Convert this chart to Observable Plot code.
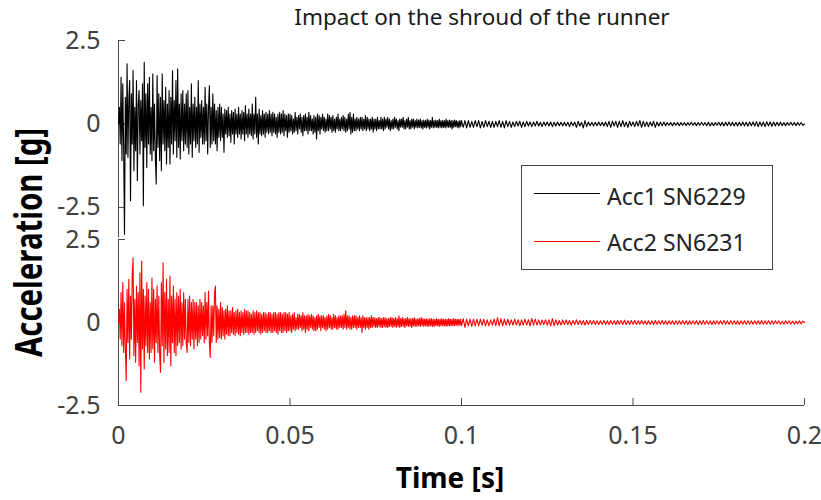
<!DOCTYPE html>
<html><head><meta charset="utf-8">
<script src="https://cdn.jsdelivr.net/npm/d3@7"></script>
<script src="https://cdn.jsdelivr.net/npm/@observablehq/plot@0.6"></script>
<style>
body{margin:0;background:#fff;}
#fig{position:relative;width:821px;height:500px;overflow:hidden;font-family:"Noto Sans",sans-serif;}
#fig svg{position:absolute;left:0;top:0;}
.txt{position:absolute;line-height:1;white-space:nowrap;}
</style></head><body><div id="fig"></div>
<script>
const title = "Impact on the shroud of the runner";
const xLabel = "Time [s]";
const yLabel = "Acceleration [g]";
const seriesNames = ["Acc1 SN6229", "Acc2 SN6231"];
const seriesColors = ["#000000", "#ff0000"];
const xTicks = [0, 0.05, 0.1, 0.15, 0.2];
const yTicks = [-2.5, 0, 2.5];
// 0 – 0.1 s sampled every 0.25 ms, 0.1 – 0.2 s every 0.5 ms
const fastStep = 0.00025;
const slowStart = 0.1;
const slowStep = 0.0005;

const acc1Fast = [
0, 0.5, -0.6, 1.4, -1.1, 1.2, -0.7, -3.3, 0.8, -0.9,
1.8, -1.0, 0.7, 1.3, -2.3, 0.9, -0.6, 1.6, -1.4, 0.5,
-0.8, 1.3, -1.7, 0.6, 1.0, -0.9, 0.7, -0.5, 1.2, -2.45,
1.85, -0.7, 0.9, -1.3, 1.2, -0.6, 1.4, -0.9, 0.5, -1.1,
1.5, -0.8, 0.6, -1.0, -1.8, 1.45, -0.7, 0.9, -1.1, 0.8,
-1.4, 1.5, -0.6, 0.7, -0.8, 1.1, -1.2, 0.6, -0.7, 1.0,
-1.2, 0.8, -0.6, 1.6, -0.9, 0.7, -0.5, 1.3, -1.0, 1.65,
-0.7, 0.6, -1.05, 0.9, -0.5, 1.0, -0.8, 0.6, -0.6, 0.9,
-0.7, 1.0, -0.9, 0.5, -0.6, 1.2, -1.0, 0.6, -0.5, 0.8,
-0.7, 0.5, -0.6, 1.3, -0.85, 0.6, -0.4, 0.7, -0.6, 0.5,
-0.6, 1.1, -0.5, 0.6, -0.9, 0.5, 1.15, -0.7, 0.5, -0.6,
0.9, -0.5, 0.6, -0.6, 0.4, -0.8, 0.5, -0.4, 0.6, -0.5,
0.5, -0.4, 0.3, -0.85, 0.45, -0.3, 0.4, -0.4, 0.5, -0.35,
0.3, -0.55, 0.4, -0.3, 0.35, -0.6, 0.45, -0.3, 0.3, -0.4,
0.5, -0.3, 0.3, -0.45, 0.4, -0.3, 0.35, -0.5, 0.55, -0.3,
0.3, -0.4, 0.45, -0.3, 0.3, -0.35, 0.6, -0.45, 0.3, -0.3,
0.8, -0.4, 0.3, -0.6, 0.45, -0.3, 0.25, -0.35, 0.4, -0.3,
0.3, -0.4, 0.35, -0.25, 0.3, -0.3, 0.4, -0.25, 0.3, -0.35,
0.35, -0.25, 0.3, -0.3, 0.2, -0.4, 0.3, -0.25, 0.35, -0.3,
0.3, -0.25, 0.4, -0.35, 0.3, -0.2, 0.25, -0.4, 0.3, -0.25,
0.3, -0.2, 0.25, -0.3, 0.15, -0.25, 0.35, -0.2, 0.2, -0.3,
0.25, -0.15, 0.3, -0.25, 0.2, -0.35, 0.25, -0.2, 0.3, -0.2,
0.2, -0.3, 0.35, -0.2, 0.25, -0.2, 0.15, -0.3, 0.25, -0.25,
0.2, -0.45, 0.3, -0.2, 0.25, -0.3, 0.2, -0.15, 0.3, -0.2,
0.2, -0.25, 0.15, -0.2, 0.3, -0.2, 0.25, -0.15, 0.2, -0.25,
0.25, -0.2, 0.15, -0.25, 0.2, -0.15, 0.3, -0.2, 0.15, -0.2,
0.2, -0.15, 0.25, -0.2, 0.2, -0.25, 0.15, -0.2, 0.3, -0.15,
0.35, -0.3, 0.2, -0.25, 0.3, -0.2, 0.15, -0.2, 0.2, -0.15,
0.15, -0.2, 0.2, -0.15, 0.2, -0.2, 0.15, -0.15, 0.25, -0.2,
0.2, -0.15, 0.15, -0.2, 0.15, -0.15, 0.2, -0.25, 0.15, -0.15,
0.15, -0.2, 0.2, -0.15, 0.1, -0.15, 0.2, -0.15, 0.15, -0.2,
0.2, -0.15, 0.15, -0.1, 0.2, -0.15, 0.15, -0.2, 0.1, -0.15,
0.15, -0.15, 0.2, -0.1, 0.15, -0.15, 0.1, -0.2, 0.15, -0.1,
0.15, -0.1, 0.2, -0.15, 0.1, -0.15, 0.15, -0.1, 0.2, -0.15,
0.1, -0.15, 0.15, -0.1, 0.15, -0.15, 0.1, -0.1, 0.15, -0.12,
0.12, -0.1, 0.15, -0.12, 0.1, -0.15, 0.12, -0.1, 0.1, -0.12,
0.15, -0.1, 0.12, -0.15, 0.1, -0.1, 0.2, -0.12, 0.1, -0.1,
0.12, -0.1, 0.1, -0.12, 0.15, -0.1, 0.1, -0.12, 0.1, -0.1,
0.1, -0.12, 0.15, -0.1, 0.1, -0.1, 0.12, -0.1, 0.1, -0.15,
0.1, -0.1, 0.12, -0.08, 0.1, -0.1, 0.08, -0.12, 0.1, -0.08
];

const acc1Slow = [
0.1, -0.1, 0.1, -0.12, 0.1, -0.1, 0.08, -0.1, 0.1, -0.08,
0.1, -0.12, 0.08, -0.1, 0.1, -0.08, 0.08, -0.1, 0.08, -0.1,
0.08, -0.08, 0.1, -0.1, 0.08, -0.12, 0.1, -0.08, 0.08, -0.1,
0.06, -0.08, 0.08, -0.06, 0.08, -0.1, 0.06, -0.08, 0.08, -0.06,
0.06, -0.08, 0.06, -0.06, 0.08, -0.06, 0.05, -0.08, 0.06, -0.05,
0.06, -0.06, 0.06, -0.08, 0.05, -0.06, 0.06, -0.05, 0.05, -0.06,
0.05, -0.06, 0.05, -0.08, 0.06, -0.05, 0.06, -0.1, 0.08, -0.06,
0.05, -0.12, 0.1, -0.08, 0.06, -0.05, 0.05, -0.06, 0.05, -0.05,
0.06, -0.05, 0.05, -0.06, 0.06, -0.08, 0.08, -0.1, 0.08, -0.06,
0.08, -0.1, 0.08, -0.08, 0.1, -0.08, 0.06, -0.1, 0.08, -0.06,
0.06, -0.08, 0.08, -0.06, 0.1, -0.1, 0.08, -0.08, 0.06, -0.08,
0.06, -0.06, 0.08, -0.1, 0.06, -0.06, 0.06, -0.05, 0.06, -0.05,
0.04, -0.04, 0.04, -0.05, 0.04, -0.04, 0.04, -0.05, 0.04, -0.04,
0.04, -0.05, 0.04, -0.04, 0.05, -0.04, 0.04, -0.05, 0.04, -0.04,
0.05, -0.04, 0.04, -0.05, 0.05, -0.06, 0.04, -0.05, 0.04, -0.04,
0.05, -0.05, 0.05, -0.06, 0.05, -0.05, 0.06, -0.05, 0.05, -0.06,
0.05, -0.06, 0.05, -0.05, 0.06, -0.06, 0.05, -0.07, 0.06, -0.05,
0.06, -0.06, 0.07, -0.08, 0.06, -0.07, 0.06, -0.08, 0.07, -0.06,
0.06, -0.07, 0.06, -0.06, 0.05, -0.05, 0.06, -0.05, 0.04, -0.05,
0.04, -0.04, 0.05, -0.04, 0.04, -0.05, 0.04, -0.04, 0.04, -0.04,
0
];

const acc2Fast = [
0, 0.4, -0.5, 0.9, -0.7, 1.2, -0.9, 0.6, -0.8, -1.75,
1.0, -0.6, 1.3, -1.1, 0.8, -0.5, 1.4, 1.95, -1.0, 0.7,
-1.2, 1.1, -0.6, 0.9, -1.3, 1.5, -2.1, 1.85, -0.8, 1.0,
-1.4, 0.8, -0.7, 1.2, -0.9, 1.0, -1.1, 0.6, -0.9, 1.35,
-0.8, 1.0, -1.2, 0.7, -0.6, 1.1, -0.9, 0.8, -1.0, -1.5,
1.2, -0.7, 1.8, -1.2, 0.9, -0.8, 1.3, -1.0, 0.7, -0.9,
1.4, -1.3, 0.8, -0.6, 1.1, -0.9, 0.7, -1.0, 0.9, -0.7,
0.8, -0.6, 1.0, -0.8, 0.6, -0.7, 0.9, -0.5, 0.7, -0.6,
-0.9, 0.7, -0.6, 0.8, -0.7, 0.6, -0.5, 0.7, -0.8, 0.6,
-0.5, 0.6, -0.7, 0.5, -0.6, 0.7, -0.5, 0.6, -0.4, 0.5,
-0.6, 0.9, -0.5, 0.6, -0.4, 0.95, -0.6, -1.05, 0.5, -0.6,
0.5, -0.4, 0.9, 1.1, -0.6, 0.5, -0.5, 0.4, -0.45, 0.6,
-0.5, 0.45, -0.4, 0.35, -0.5, 0.4, -0.35, 0.5, -0.4, 0.35,
-0.4, 0.35, -0.3, 0.45, -0.35, 0.3, -0.4, 0.35, -0.3, 0.4,
-0.35, 0.3, -0.4, 0.35, -0.3, 0.3, -0.35, 0.4, -0.3, 0.35,
-0.3, 0.35, -0.35, 0.3, -0.3, 0.25, -0.3, 0.35, -0.35, 0.3,
-0.3, 0.35, -0.25, 0.3, -0.3, 0.3, -0.35, 0.25, -0.3, 0.3,
-0.25, 0.3, -0.3, 0.25, -0.3, 0.3, -0.25, 0.3, -0.3, 0.25,
-0.3, 0.3, -0.25, 0.3, -0.3, 0.25, -0.35, 0.3, -0.25, 0.3,
-0.3, 0.25, -0.3, 0.3, -0.25, 0.3, -0.3, 0.25, -0.25, 0.3,
-0.25, 0.2, -0.3, 0.25, -0.2, 0.3, -0.25, 0.15, -0.2, 0.25,
-0.2, 0.25, -0.15, 0.2, -0.25, 0.3, -0.2, 0.2, -0.3, 0.2,
-0.2, 0.25, -0.25, 0.2, -0.15, 0.25, -0.2, 0.2, -0.25, 0.15,
-0.25, 0.2, -0.2, 0.25, -0.15, 0.2, -0.25, 0.2, -0.15, 0.2,
-0.2, 0.15, -0.25, 0.2, -0.2, 0.25, -0.15, 0.2, -0.2, 0.15,
-0.2, 0.25, -0.15, 0.2, -0.2, 0.15, -0.2, 0.2, -0.15, 0.2,
-0.15, 0.2, -0.2, 0.25, -0.15, 0.35, -0.2, 0.2, -0.15, 0.2,
-0.2, 0.15, -0.2, 0.2, -0.15, 0.2, -0.15, 0.2, -0.2, 0.15,
-0.15, 0.2, -0.15, 0.15, -0.3, 0.2, -0.15, 0.15, -0.2, 0.15,
-0.15, 0.15, -0.2, 0.15, -0.15, 0.2, -0.15, 0.15, -0.12, 0.15,
-0.15, 0.12, -0.15, 0.15, -0.12, 0.15, -0.15, 0.12, -0.15, 0.15,
-0.12, 0.15, -0.15, 0.12, -0.15, 0.12, -0.12, 0.15, -0.12, 0.15,
-0.15, 0.12, -0.12, 0.15, -0.15, 0.12, -0.12, 0.2, -0.15, 0.12,
-0.12, 0.15, -0.12, 0.12, -0.15, 0.12, -0.1, 0.15, -0.12, 0.12,
-0.12, 0.12, -0.15, 0.12, -0.1, 0.15, -0.12, 0.1, -0.12, 0.12,
-0.1, 0.12, -0.12, 0.15, -0.1, 0.12, -0.12, 0.1, -0.1, 0.12,
-0.12, 0.1, -0.12, 0.12, -0.1, 0.12, -0.12, 0.1, -0.12, 0.1,
-0.1, 0.12, -0.1, 0.1, -0.12, 0.1, -0.1, 0.12, -0.1, 0.1,
-0.1, 0.1, -0.12, 0.1, -0.1, 0.12, -0.1, 0.1, -0.1, 0.1,
-0.1, 0.12, -0.1, 0.1, -0.08, 0.1, -0.1, 0.1, -0.08, 0.1
];

const acc2Slow = [
-0.1, 0.12, -0.15, 0.1, -0.1, 0.1, -0.12, 0.1, -0.1, 0.1,
-0.1, 0.1, -0.08, 0.1, -0.1, 0.08, -0.1, 0.08, -0.08, 0.1,
-0.1, 0.15, -0.1, 0.12, -0.1, 0.1, -0.08, 0.1, -0.08, 0.08,
-0.08, 0.1, -0.08, 0.08, -0.1, 0.08, -0.08, 0.1, -0.08, 0.08,
-0.1, 0.12, -0.08, 0.1, -0.08, 0.08, -0.08, 0.08, -0.06, 0.08,
-0.08, 0.08, -0.1, 0.12, -0.1, 0.08, -0.08, 0.06, -0.08, 0.08,
-0.06, 0.08, -0.06, 0.06, -0.08, 0.06, -0.06, 0.08, -0.06, 0.06,
-0.06, 0.06, -0.08, 0.06, -0.06, 0.06, -0.05, 0.06, -0.06, 0.05,
-0.06, 0.05, -0.05, 0.06, -0.06, 0.05, -0.06, 0.06, -0.05, 0.05,
-0.06, 0.06, -0.05, 0.06, -0.06, 0.07, -0.06, 0.05, -0.06, 0.06,
-0.05, 0.06, -0.06, 0.05, -0.05, 0.06, -0.05, 0.05, -0.06, 0.05,
-0.05, 0.05, -0.06, 0.06, -0.05, 0.05, -0.05, 0.06, -0.05, 0.05,
-0.06, 0.05, -0.05, 0.05, -0.06, 0.05, -0.05, 0.05, -0.05, 0.06,
-0.05, 0.05, -0.06, 0.05, -0.05, 0.05, -0.05, 0.05, -0.06, 0.05,
-0.05, 0.06, -0.05, 0.05, -0.05, 0.05, -0.06, 0.05, -0.05, 0.05,
-0.05, 0.05, -0.05, 0.06, -0.05, 0.05, -0.05, 0.05, -0.05, 0.05,
-0.05, 0.05, -0.06, 0.05, -0.05, 0.05, -0.05, 0.05, -0.05, 0.05,
-0.05, 0.05, -0.05, 0.05, -0.05, 0.06, -0.05, 0.05, -0.05, 0.05,
-0.05, 0.05, -0.05, 0.05, -0.04, 0.05, -0.05, 0.04, -0.05, 0.05,
-0.04, 0.05, -0.05, 0.04, -0.05, 0.04, -0.04, 0.05, -0.04, 0.04,
0
];

function samples(fast, slow) {
  return [
    ...fast.map((v, i) => ({t: i * fastStep, v})),
    ...slow.map((v, i) => ({t: slowStart + i * slowStep, v}))
  ];
}
const series1 = samples(acc1Fast, acc1Slow);
const series2 = samples(acc2Fast, acc2Slow);

const W = 821, ML = 118, MR = 17;
const frameW = W - ML - MR;
const axisColor = "#4a4a4a";
const labelColor = "#404040";
const fmt = d => String(d);
const svgStyle = {background: "transparent", overflow: "visible", fontFamily: "'Noto Sans', sans-serif", fontSize: "25px", color: axisColor};

const bottomH = 500, bottomMT = 239, bottomMB = 95;
const bottomFrameH = bottomH - bottomMT - bottomMB;

const bottomPlot = Plot.plot({
  width: W, height: bottomH, marginTop: bottomMT, marginBottom: bottomMB, marginLeft: ML, marginRight: MR,
  x: {domain: [0, 0.2]}, y: {domain: [-2.5, 2.5]},
  style: svgStyle,
  marks: [
    Plot.ruleX([0], {stroke: axisColor}),
    Plot.ruleY([-2.5], {stroke: axisColor}),
    Plot.ruleY(yTicks, {stroke: axisColor, insetRight: frameW - 7}),
    Plot.ruleX(xTicks, {stroke: axisColor, insetTop: bottomFrameH - 7}),
    Plot.axisY(yTicks, {tickSize: 0, tickPadding: 18, tickFormat: fmt, label: null, fill: labelColor, fontSize: 25}),
    Plot.axisX(xTicks, {tickSize: 0, tickPadding: 21, tickFormat: fmt, label: null, fill: labelColor, fontSize: 25}),
    Plot.line(series2, {x: "t", y: "v", stroke: seriesColors[1], strokeWidth: 1.1})
  ]
});

const topPlot = Plot.plot({
  width: W, height: 245, marginTop: 40, marginBottom: 8, marginLeft: ML, marginRight: MR,
  x: {domain: [0, 0.2], axis: null}, y: {domain: [-3.4, 2.5]},
  style: svgStyle,
  marks: [
    Plot.ruleX([0], {stroke: axisColor}),
    Plot.ruleY(yTicks, {stroke: axisColor, insetRight: frameW - 7}),
    Plot.axisY(yTicks, {tickSize: 0, tickPadding: 18, tickFormat: fmt, label: null, fill: labelColor, fontSize: 25}),
    Plot.line(series1, {x: "t", y: "v", stroke: seriesColors[0], strokeWidth: 1.1})
  ]
});

const fig = document.getElementById("fig");
fig.appendChild(bottomPlot);
fig.appendChild(topPlot);

function addText(str, left, top, size, opts = {}) {
  const el = document.createElement("div");
  el.className = "txt";
  el.textContent = str;
  el.style.left = left + "px";
  el.style.top = top + "px";
  el.style.fontSize = size + "px";
  el.style.color = opts.color || "#1a1a1a";
  if (opts.bold) el.style.fontWeight = "bold";
  if (opts.center) el.style.transform = "translateX(-50%)";
  fig.appendChild(el);
  return el;
}

addText(title, 482, 6, 22.5, {center: true, color: "#1a1a1a"});
addText(xLabel, 450, 463, 28, {center: true, bold: true, color: "#000"});

// y label (rotated, condensed)
const ns = "http://www.w3.org/2000/svg";
const ov = document.createElementNS(ns, "svg");
ov.setAttribute("width", W); ov.setAttribute("height", 500);
ov.style.pointerEvents = "none";
const yt = document.createElementNS(ns, "text");
yt.textContent = yLabel;
yt.setAttribute("transform", "translate(42,242.5) rotate(-90)");
yt.setAttribute("text-anchor", "middle");
yt.setAttribute("font-family", "'Noto Sans', sans-serif");
yt.setAttribute("font-weight", "bold");
yt.setAttribute("font-size", "38");
yt.setAttribute("textLength", "229");
yt.setAttribute("lengthAdjust", "spacingAndGlyphs");
yt.setAttribute("fill", "#000");
ov.appendChild(yt);
fig.appendChild(ov);

// legend
const box = document.createElement("div");
Object.assign(box.style, {position: "absolute", left: "521px", top: "165px", width: "252px", height: "105px", border: "1px solid #444", boxSizing: "border-box", background: "#fff"});
fig.appendChild(box);
seriesNames.forEach((name, i) => {
  const ln = document.createElement("div");
  Object.assign(ln.style, {position: "absolute", left: "534px", width: "66px", height: "1px", top: (193 + i * 48) + "px", background: seriesColors[i]});
  fig.appendChild(ln);
  addText(name, 607, 184.6 + i * 46.7, 23, {color: "#222"});
});
</script>
</body></html>
